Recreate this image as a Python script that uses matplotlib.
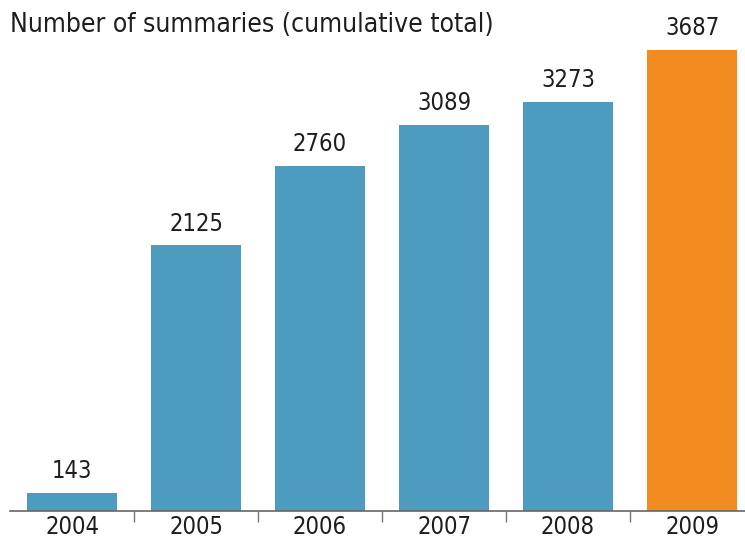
import matplotlib.pyplot as plt
import numpy as np

years = ["2004", "2005", "2006", "2007", "2008", "2009"]
summaries = [143, 2125, 2760, 3089, 3273, 3687]
bar_colors = ["#4e9bc0"] * 5 + ["#f38c20"]

plt.rcParams["font.family"] = ["DejaVu Sans"]
plt.rcParams["font.stretch"] = "condensed"

fig = plt.figure(figsize=(7.45, 5.42), dpi=100)
ax = fig.add_axes([10 / 745, 31 / 542, 735 / 745, 511 / 542])

x = np.arange(len(years))
ax.bar(x, summaries, width=0.726, color=bar_colors)

for xi, v in zip(x, summaries):
    ax.annotate(str(v), (xi, v), xytext=(0, 7), textcoords="offset points",
                ha="center", va="bottom", fontsize=17, color="#1e1e1e")

ax.set_xlim(-0.5, 5.427)
ax.set_ylim(0, 4088)

ax.set_xticks(x)
ax.set_xticklabels(years, fontsize=17, color="#1e1e1e")
ax.set_xticks(x[:-1] + 0.5, minor=True)
ax.tick_params(axis="x", which="major", length=0, pad=3)
ax.tick_params(axis="x", which="minor", length=8, width=1, color="#777777")
ax.set_yticks([])

for side in ["top", "right", "left"]:
    ax.spines[side].set_visible(False)
ax.spines["bottom"].set_color("#666666")
ax.spines["bottom"].set_linewidth(1.2)

fig.text(10 / 745, 1 - 25 / 542, "Number of summaries (cumulative total)",
         ha="left", va="center", fontsize=19, color="#1e1e1e")

fig.savefig("out.png", dpi=100)
